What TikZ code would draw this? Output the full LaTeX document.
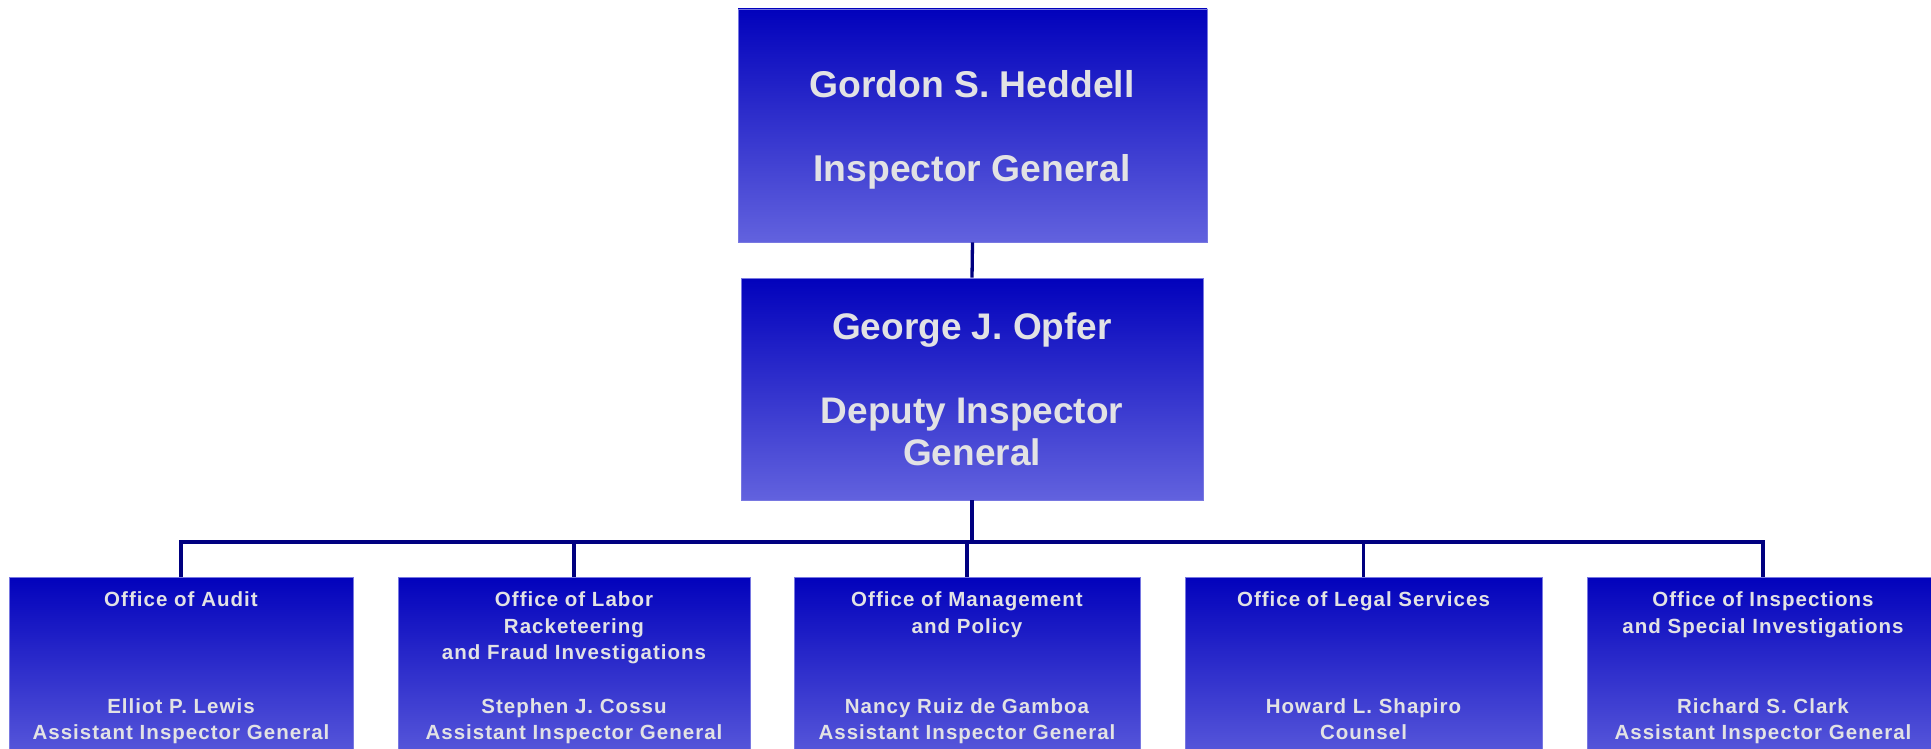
\documentclass[tikz,border=0pt]{standalone}
\usepackage{fontspec}
\setmainfont{Liberation Sans}
\newfontfamily\spacedfont[LetterSpace=5]{Liberation Sans}
\begin{document}
\begin{tikzpicture}[x=1pt,y=-1pt,
  box/.style={draw=boxedge, line width=0.8pt, top color=boxtop, bottom color=boxbot, inner sep=0pt},
  conn/.style={draw=navy, line width=3.3pt},
  lbl/.style={text=txtgray, inner sep=0pt, anchor=base, font=\bfseries},
  bigtxt/.style={lbl, font=\fontsize{37.3}{44}\selectfont\bfseries},
  midtxt/.style={lbl, font=\fontsize{37}{44}\selectfont\bfseries},
  smalltxt/.style={lbl, font=\spacedfont\fontsize{20.5}{26}\selectfont\bfseries}]
\definecolor{boxtop}{RGB}{2,2,188}
\definecolor{boxbot}{RGB}{98,98,222}
\definecolor{boxedge}{RGB}{120,120,225}
\definecolor{navy}{RGB}{0,0,128}
\definecolor{txtgray}{RGB}{226,226,228}
\path[use as bounding box, clip] (0,0) rectangle (1931,749);
\fill[white] (0,0) rectangle (1931,749);
% boxes
\node[box, minimum width=469pt, minimum height=233pt] (ig) at (972.5,125.5) {};
\node[box, minimum width=462pt, minimum height=222pt] (dig) at (972,389) {};
\node[box, minimum width=344pt, minimum height=200pt] (b1) at (181,677) {};
\node[box, minimum width=352pt, minimum height=200pt] (b2) at (574,677) {};
\node[box, minimum width=346pt, minimum height=200pt] (b3) at (967,677) {};
\node[box, minimum width=357pt, minimum height=200pt] (b4) at (1363.5,677) {};
\node[box, minimum width=352pt, minimum height=200pt] (b5) at (1763,677) {};
% connectors
\coordinate (bus) at (972,542);
\draw[conn] (ig.south) -- (dig.north);
\draw[conn] (dig.south) -- (bus);
\draw[conn] (b1.north) |- (bus) -| (b5.north);
\draw[conn] (b2.north) -- (b2.north |- bus);
\draw[conn] (b3.north) -- (b3.north |- bus);
\draw[conn] (b4.north) -- (b4.north |- bus);
% texts
\node[bigtxt] (t1) at (972,98) {Gordon S. Heddell};
\node[bigtxt] (t2) at (972,182) {Inspector General};
\node[midtxt] (t3) at (972,339) {George J. Opfer};
\node[midtxt] (t4) at (972,423) {Deputy Inspector};
\node[midtxt] (t5) at (972,465) {General};
\node[smalltxt] (a1) at (181,606) {Office of Audit};
\node[smalltxt] (a2) at (181,713) {Elliot P. Lewis};
\node[smalltxt] (a3) at (181,739) {Assistant Inspector General};
\node[smalltxt] (c1) at (574,606) {Office of Labor};
\node[smalltxt] (c2) at (574,633) {Racketeering};
\node[smalltxt] (c3) at (574,659) {and Fraud Investigations};
\node[smalltxt] (c4) at (574,713) {Stephen J. Cossu};
\node[smalltxt] (c5) at (574,739) {Assistant Inspector General};
\node[smalltxt] (m1) at (967,606) {Office of Management};
\node[smalltxt] (m2) at (967,633) {and Policy};
\node[smalltxt] (m3) at (967,713) {Nancy Ruiz de Gamboa};
\node[smalltxt] (m4) at (967,739) {Assistant Inspector General};
\node[smalltxt] (l1) at (1363.5,606) {Office of Legal Services};
\node[smalltxt] (l2) at (1363.5,713) {Howard L. Shapiro};
\node[smalltxt] (l3) at (1363.5,739) {Counsel};
\node[smalltxt] (s1) at (1763,606) {Office of Inspections};
\node[smalltxt] (s2) at (1763,633) {and Special Investigations};
\node[smalltxt] (s3) at (1763,713) {Richard S. Clark};
\node[smalltxt] (s4) at (1763,739) {Assistant Inspector General};
\end{tikzpicture}
\end{document}
